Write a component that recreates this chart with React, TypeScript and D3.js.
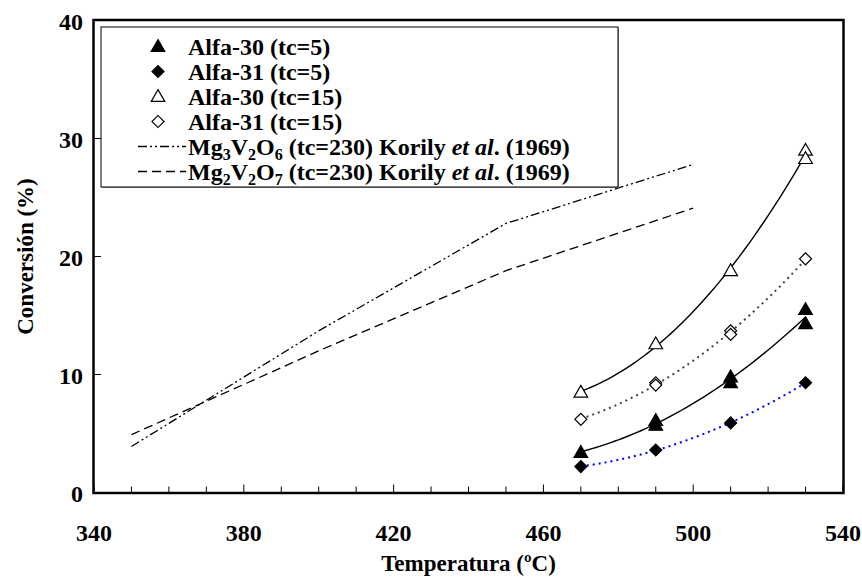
import React from 'react';
import * as d3 from 'd3';

// measured series (temperature in ºC, conversion in %)
const tempA30t5 = [470, 490, 490, 510, 510, 530, 530];
const convA30t5 = [3.4, 6.1, 5.7, 9.8, 9.3, 15.5, 14.3];
const tempA31t5 = [470, 490, 510, 530];
const convA31t5 = [2.2, 3.6, 5.9, 9.3];
const tempA30t15 = [470, 490, 510, 530, 530];
const convA30t15 = [8.5, 12.6, 18.8, 29.0, 28.3];
const tempA31t15 = [470, 490, 490, 510, 510, 530];
const convA31t15 = [6.2, 9.3, 9.1, 13.7, 13.4, 19.8];

// literature curves (Korily et al. 1969)
const tempKorily = [350, 400, 450, 500];
const convMg3V2O6 = [3.9, 13.7, 22.8, 27.8];
const convMg2V2O7 = [4.9, 12.0, 18.8, 24.1];

const xTicks = [340, 380, 420, 460, 500, 540];
const xMinor = d3.range(340, 541, 10);
const yTicks = [0, 10, 20, 30, 40];

const W = 862, H = 578;
const FONT = 'Liberation Serif, Times New Roman, serif';

const x = d3.scaleLinear().domain([340, 540]).range([94, 843]);
const y = d3.scaleLinear().domain([0, 40]).range([492.5, 20.5]);

// 2nd order polynomial trendline (least squares), like the spreadsheet trendlines
function polyFit(xs: number[], ys: number[]) {
  const m = d3.mean(xs)!;
  const S = [[0, 0, 0], [0, 0, 0], [0, 0, 0]];
  const R = [0, 0, 0];
  xs.forEach((xv, i) => {
    const t = xv - m;
    const p = [1, t, t * t];
    for (let r = 0; r < 3; r++) {
      R[r] += p[r] * ys[i];
      for (let c = 0; c < 3; c++) S[r][c] += p[r] * p[c];
    }
  });
  for (let k = 0; k < 3; k++) {
    for (let r = k + 1; r < 3; r++) {
      const f = S[r][k] / S[k][k];
      for (let c = k; c < 3; c++) S[r][c] -= f * S[k][c];
      R[r] -= f * R[k];
    }
  }
  const co = [0, 0, 0];
  for (let k = 2; k >= 0; k--) {
    let s = R[k];
    for (let c = k + 1; c < 3; c++) s -= S[k][c] * co[c];
    co[k] = s / S[k][k];
  }
  return (xv: number) => { const t = xv - m; return co[0] + co[1] * t + co[2] * t * t; };
}

const line = d3.line<[number, number]>().x(d => x(d[0])).y(d => y(d[1]));

function trend(xs: number[], ys: number[]) {
  const f = polyFit(xs, ys);
  const [lo, hi] = d3.extent(xs) as [number, number];
  return line(d3.range(lo, hi + 0.01, 1).map(t => [t, f(t)] as [number, number])) || '';
}

const triPath = d3.symbol(d3.symbolTriangle, 80)() || '';
const diaPath = d3.symbol(d3.symbolSquare, 72)() || '';

function Marker({ cx, cy, kind, filled }: { cx: number; cy: number; kind: 'tri' | 'dia'; filled: boolean }) {
  const tr = kind === 'tri' ? `translate(${cx},${cy + 1})` : `translate(${cx},${cy}) rotate(45)`;
  return (
    <path d={kind === 'tri' ? triPath : diaPath} transform={tr}
      fill={filled ? '#000' : '#fff'} stroke="#000" strokeWidth={1.2} />
  );
}

const DASHDOT = '9,3,2,3,2,3';
const DASHED = '9,5';

export default function App() {
  const zip = (a: number[], b: number[]) => a.map((t, i) => [t, b[i]] as [number, number]);
  const legendRows = [46.5, 71.5, 96.5, 121.5, 146.5, 171.5];

  return (
    <svg width={W} height={H} style={{ position: 'absolute', left: 0, top: 0, background: '#fff', fontFamily: FONT, fontWeight: 'bold' }}>
      {/* literature lines */}
      <path d={line(zip(tempKorily, convMg3V2O6)) || ''} fill="none" stroke="#000" strokeWidth={1.3} strokeDasharray={DASHDOT} />
      <path d={line(zip(tempKorily, convMg2V2O7)) || ''} fill="none" stroke="#000" strokeWidth={1.3} strokeDasharray={DASHED} />

      {/* trendlines */}
      <path d={trend(tempA30t15, convA30t15)} fill="none" stroke="#000" strokeWidth={1.4} />
      <path d={trend(tempA31t15, convA31t15)} fill="none" stroke="#444" strokeWidth={2} strokeDasharray="2,4" />
      <path d={trend(tempA30t5, convA30t5)} fill="none" stroke="#000" strokeWidth={1.4} />
      <path d={trend(tempA31t5, convA31t5)} fill="none" stroke="#0000ff" strokeWidth={2} strokeDasharray="2,4" />

      {/* points */}
      {tempA30t15.map((t, i) => <Marker key={'a' + i} cx={x(t)} cy={y(convA30t15[i])} kind="tri" filled={false} />)}
      {tempA31t15.map((t, i) => <Marker key={'b' + i} cx={x(t)} cy={y(convA31t15[i])} kind="dia" filled={false} />)}
      {tempA30t5.map((t, i) => <Marker key={'c' + i} cx={x(t)} cy={y(convA30t5[i])} kind="tri" filled />)}
      {tempA31t5.map((t, i) => <Marker key={'d' + i} cx={x(t)} cy={y(convA31t5[i])} kind="dia" filled />)}

      {/* ticks */}
      {xMinor.map(t => (
        <line key={'xm' + t} x1={x(t)} x2={x(t)} y1={y(0)} y2={y(0) - (xTicks.includes(t) ? 8 : 6)} stroke="#000" strokeWidth={1} />
      ))}
      {yTicks.map(v => (
        <line key={'yt' + v} x1={x(340)} x2={x(340) + 7} y1={y(v)} y2={y(v)} stroke="#000" strokeWidth={1} />
      ))}

      {/* legend */}
      <rect x={102} y={28} width={517} height={160} fill="#999" />
      <rect x={101} y={27} width={517} height={160} fill="#fff" stroke="#000" strokeWidth={1} />
      <Marker cx={158} cy={legendRows[0]} kind="tri" filled />
      <Marker cx={158} cy={legendRows[1]} kind="dia" filled />
      <Marker cx={158} cy={legendRows[2]} kind="tri" filled={false} />
      <Marker cx={158} cy={legendRows[3]} kind="dia" filled={false} />
      <line x1={138} x2={186} y1={legendRows[4]} y2={legendRows[4]} stroke="#000" strokeWidth={1.3} strokeDasharray={DASHDOT} />
      <line x1={138} x2={186} y1={legendRows[5]} y2={legendRows[5]} stroke="#000" strokeWidth={1.3} strokeDasharray={DASHED} />
      <g fontSize={24} style={{ whiteSpace: 'pre' }}>
        <text x={188} y={legendRows[0] + 8}>Alfa-30 (tc=5)</text>
        <text x={188} y={legendRows[1] + 8}>Alfa-31 (tc=5)</text>
        <text x={188} y={legendRows[2] + 8}>Alfa-30 (tc=15)</text>
        <text x={188} y={legendRows[3] + 8}>Alfa-31 (tc=15)</text>
        {[['3', '6'], ['2', '7']].map(([a, o], i) => (
          <text key={a} x={188} y={legendRows[4 + i] + 8}>
            Mg<tspan fontSize={16} dy={5}>{a}</tspan>
            <tspan dy={-5}>V</tspan><tspan fontSize={16} dy={5}>2</tspan>
            <tspan dy={-5}>O</tspan><tspan fontSize={16} dy={5}>{o}</tspan>
            <tspan dy={-5}>{' (tc=230)  Korily '}</tspan>
            <tspan fontStyle="italic">et al</tspan>
            <tspan>. (1969)</tspan>
          </text>
        ))}
      </g>

      {/* frame */}
      <rect x={x(340) - 0.5} y={y(40) - 0.5} width={x(540) - x(340) + 1} height={y(0) - y(40) + 1}
        fill="none" stroke="#000" strokeWidth={2.5} />

      {/* tick labels */}
      <g fontSize={24}>
        {xTicks.map(t => <text key={'xl' + t} x={x(t)} y={541} textAnchor="middle">{t}</text>)}
        {yTicks.map(v => <text key={'yl' + v} x={83} y={y(v) + 9} textAnchor="end">{v}</text>)}
      </g>

      {/* axis titles */}
      <text x={(x(340) + x(540)) / 2} y={571} textAnchor="middle" fontSize={23}>Temperatura (ºC)</text>
      <text transform={`translate(33,${(y(0) + y(40)) / 2}) rotate(-90)`} textAnchor="middle" fontSize={23}>Conversión (%)</text>
    </svg>
  );
}
